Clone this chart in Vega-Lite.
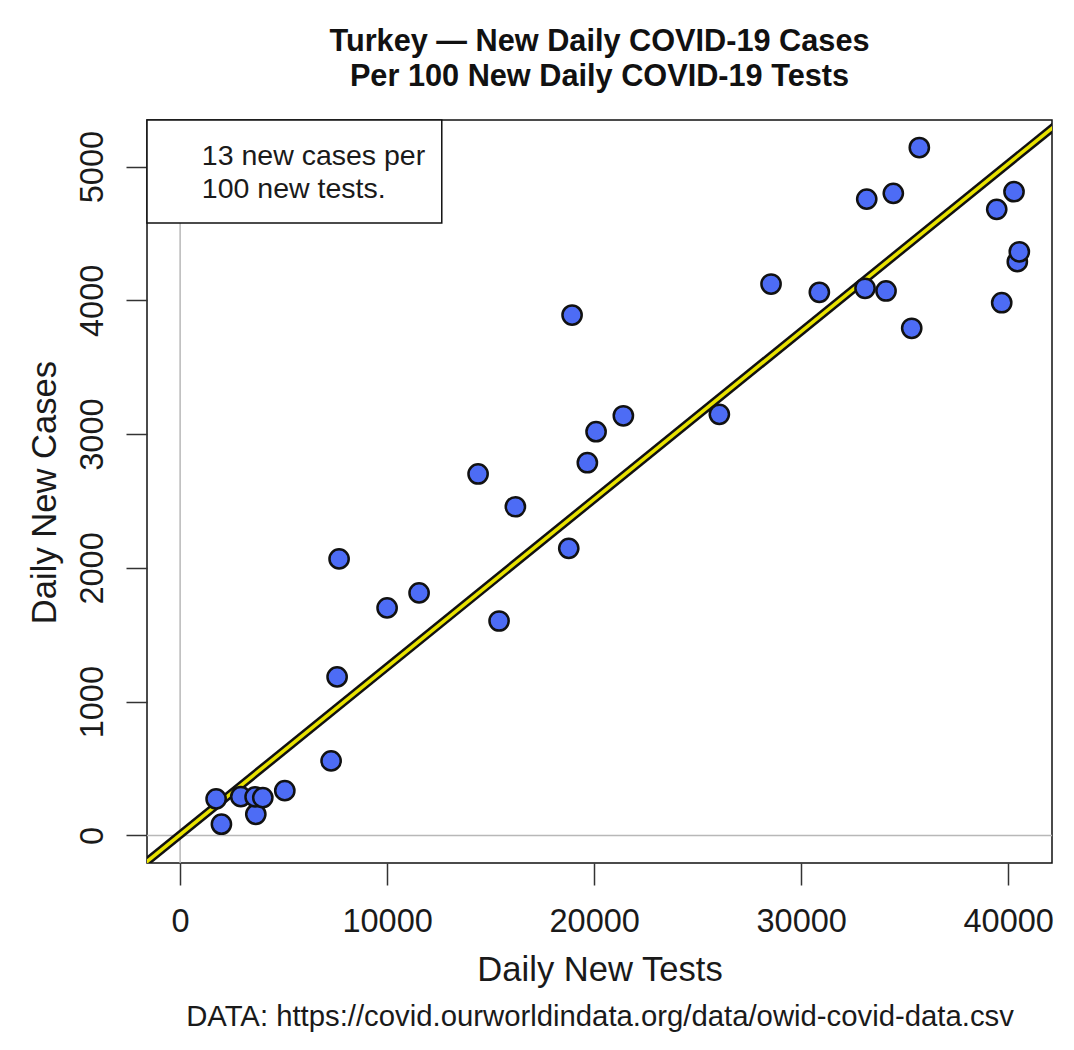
{
  "$schema": "https://vega.github.io/schema/vega-lite/v6.json",
  "width": 905,
  "height": 743,
  "autosize": {"type": "none"},
  "padding": {"left": 147, "top": 120, "right": 22, "bottom": 187},
  "background": "white",
  "title": {
    "text": ["Turkey — New Daily COVID-19 Cases", "Per 100 New Daily COVID-19 Tests"],
    "font": "Liberation Sans",
    "fontSize": 30.7,
    "fontWeight": "bold",
    "color": "#111111",
    "anchor": "middle",
    "frame": "group",
    "baseline": "bottom",
    "offset": 29,
    "dy": 32,
    "lineHeight": 35
  },
  "config": {
    "view": {"stroke": "#111111", "strokeWidth": 1.5},
    "font": "Liberation Sans",
    "axis": {
      "grid": false,
      "domain": false,
      "labelFont": "Liberation Sans",
      "titleFont": "Liberation Sans",
      "labelColor": "#1a1a1a",
      "titleColor": "#1a1a1a",
      "tickColor": "#333333",
      "tickWidth": 1.5,
      "titleFontWeight": "normal",
      "labelFlush": false,
      "labelOverlap": false,
      "labelBound": false
    }
  },
  "datasets": {
    "points": [
      {"tests": 1739, "cases": 273},
      {"tests": 1995, "cases": 84},
      {"tests": 2932, "cases": 290},
      {"tests": 3656, "cases": 158},
      {"tests": 3622, "cases": 288},
      {"tests": 3994, "cases": 283},
      {"tests": 5057, "cases": 335},
      {"tests": 7293, "cases": 557},
      {"tests": 7583, "cases": 1185},
      {"tests": 7679, "cases": 2067},
      {"tests": 9998, "cases": 1701},
      {"tests": 11543, "cases": 1813},
      {"tests": 14393, "cases": 2702},
      {"tests": 15407, "cases": 1603},
      {"tests": 16194, "cases": 2457},
      {"tests": 18773, "cases": 2146},
      {"tests": 18933, "cases": 3890},
      {"tests": 19671, "cases": 2786},
      {"tests": 20092, "cases": 3018},
      {"tests": 21410, "cases": 3137},
      {"tests": 26047, "cases": 3148},
      {"tests": 28544, "cases": 4122},
      {"tests": 30877, "cases": 4060},
      {"tests": 33084, "cases": 4090},
      {"tests": 33166, "cases": 4757},
      {"tests": 34098, "cases": 4070},
      {"tests": 34450, "cases": 4800},
      {"tests": 35339, "cases": 3791},
      {"tests": 35706, "cases": 5142},
      {"tests": 39445, "cases": 4680},
      {"tests": 39686, "cases": 3982},
      {"tests": 40280, "cases": 4812},
      {"tests": 40440, "cases": 4289},
      {"tests": 40536, "cases": 4363}
    ],
    "fit": [
      {"tests": -3000, "cases": -370.6},
      {"tests": 45000, "cases": 5648.6}
    ],
    "one": [{}]
  },
  "resolve": {"axis": {"x": "independent", "y": "independent"}},
  "layer": [
    {
      "data": {"name": "one"},
      "mark": {"type": "rule", "color": "#b8b8b8", "strokeWidth": 1.5},
      "encoding": {
        "y": {"datum": 0, "type": "quantitative", "scale": {"domain": [-206, 5348], "nice": false, "zero": false}, "axis": null}
      }
    },
    {
      "data": {"name": "one"},
      "mark": {"type": "rule", "color": "#b8b8b8", "strokeWidth": 1.5},
      "encoding": {
        "x": {
          "datum": 0, "type": "quantitative",
          "scale": {"domain": [-1600, 42115], "nice": false, "zero": false},
          "axis": {
            "orient": "bottom",
            "title": "DATA: https://covid.ourworldindata.org/data/owid-covid-data.csv",
            "labels": false, "ticks": false, "domain": false, "grid": false,
            "titleFontSize": 29.3, "titleBaseline": "alphabetic", "titleY": 162, "titleX": 452.5, "titleAlign": "center"
          }
        }
      }
    },
    {
      "data": {"name": "fit"},
      "mark": {"type": "line", "color": "#111111", "strokeWidth": 8.5, "clip": true},
      "encoding": {
        "x": {"field": "tests", "type": "quantitative", "scale": {"domain": [-1600, 42115], "nice": false, "zero": false}, "axis": null},
        "y": {"field": "cases", "type": "quantitative", "scale": {"domain": [-206, 5348], "nice": false, "zero": false}, "axis": null}
      }
    },
    {
      "data": {"name": "fit"},
      "mark": {"type": "line", "color": "#e8e200", "strokeWidth": 3.5, "clip": true},
      "encoding": {
        "x": {"field": "tests", "type": "quantitative", "scale": {"domain": [-1600, 42115], "nice": false, "zero": false}, "axis": null},
        "y": {"field": "cases", "type": "quantitative", "scale": {"domain": [-206, 5348], "nice": false, "zero": false}, "axis": null}
      }
    },
    {
      "data": {"name": "points"},
      "mark": {"type": "point", "shape": "circle", "filled": true, "fill": "#4d6cf5", "stroke": "#111111", "strokeWidth": 2.5, "opacity": 1, "size": 370},
      "encoding": {
        "x": {
          "field": "tests", "type": "quantitative",
          "scale": {"domain": [-1600, 42115], "nice": false, "zero": false},
          "axis": {
            "orient": "bottom",
            "title": "Daily New Tests",
            "values": [0, 10000, 20000, 30000, 40000],
            "format": "d",
            "labelFontSize": 32.5,
            "titleFontSize": 34.6,
            "tickSize": 22,
            "labelPadding": 46,
            "labelBaseline": "alphabetic",
            "labelAlign": "center",
            "titleBaseline": "alphabetic",
            "titleY": 117,
            "titleX": 452.5,
            "titleAlign": "center"
          }
        },
        "y": {
          "field": "cases", "type": "quantitative",
          "scale": {"domain": [-206, 5348], "nice": false, "zero": false},
          "axis": {
            "orient": "left",
            "title": "Daily New Cases",
            "values": [0, 1000, 2000, 3000, 4000, 5000],
            "format": "d",
            "labelFontSize": 32.5,
            "titleFontSize": 34.6,
            "tickSize": 21,
            "labelPadding": 24,
            "labelAngle": -90,
            "labelAlign": "center",
            "labelBaseline": "alphabetic",
            "titleAngle": 270,
            "titleAlign": "center",
            "titleBaseline": "alphabetic",
            "titleX": -91.5,
            "titleY": 372
          }
        }
      }
    },
    {
      "data": {"name": "one"},
      "mark": {"type": "rect", "fill": "white", "stroke": "#111111", "strokeWidth": 1.5},
      "encoding": {
        "x": {"datum": -1600, "type": "quantitative", "scale": {"domain": [-1600, 42115], "nice": false, "zero": false}, "axis": null},
        "x2": {"datum": 12639},
        "y": {"datum": 4578, "type": "quantitative", "scale": {"domain": [-206, 5348], "nice": false, "zero": false}, "axis": null},
        "y2": {"datum": 5348}
      }
    },
    {
      "data": {"name": "one"},
      "mark": {"type": "text", "text": "13 new cases per", "align": "left", "baseline": "alphabetic", "fontSize": 28.5, "font": "Liberation Sans", "color": "#1a1a1a"},
      "encoding": {
        "x": {"datum": 1048, "type": "quantitative", "scale": {"domain": [-1600, 42115], "nice": false, "zero": false}, "axis": null},
        "y": {"datum": 5011, "type": "quantitative", "scale": {"domain": [-206, 5348], "nice": false, "zero": false}, "axis": null}
      }
    },
    {
      "data": {"name": "one"},
      "mark": {"type": "text", "text": "100 new tests.", "align": "left", "baseline": "alphabetic", "fontSize": 28.5, "font": "Liberation Sans", "color": "#1a1a1a"},
      "encoding": {
        "x": {"datum": 1048, "type": "quantitative", "scale": {"domain": [-1600, 42115], "nice": false, "zero": false}, "axis": null},
        "y": {"datum": 4765, "type": "quantitative", "scale": {"domain": [-206, 5348], "nice": false, "zero": false}, "axis": null}
      }
    }
  ]
}
